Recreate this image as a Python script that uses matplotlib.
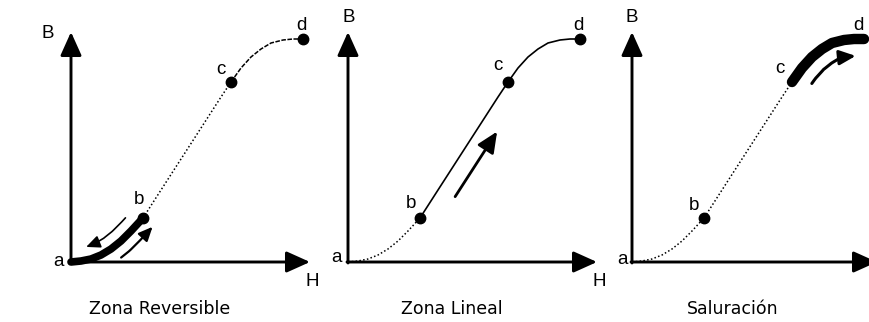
import numpy as np
import matplotlib.pyplot as plt

plt.rcParams['font.family'] = ['Liberation Sans', 'DejaVu Sans']

# Curva de magnetización B(H), en píxeles desde el origen
H = [0, 10, 20, 30, 40, 50, 60, 72, 90, 110, 130, 150, 160, 170, 180, 190, 200, 212, 222, 232]
B = [0, 1, 3, 7, 13, 21, 31, 44, 72, 103, 134, 165, 180, 194, 205, 213, 219, 222, 223, 223]

# Índices de los puntos a, b, c, d sobre la curva
PUNTOS = {'a': 0, 'b': 7, 'c': 12, 'd': 19}

TITULOS = ['Zona Reversible', 'Zona Lineal', 'Saluración']

W, HGT = 869, 322
ORIGENES_X = [71, 348, 632]     # posición del origen de cada panel (px)
LARGO_H = [239, 249, 245]
LARGO_B = 230
FS_LETRA = 13.5
FS_TITULO = 12.5

fig = plt.figure(figsize=(W / 100, HGT / 100), dpi=100)
fig.patch.set_facecolor('white')


def nuevo_panel(ox):
    ax = fig.add_axes([(ox - 70) / W, 0, 330 / W, 1])
    ax.set_xlim(-70, 260)
    ax.set_ylim(-60, 262)
    ax.axis('off')
    ax.patch.set_alpha(0)
    return ax


def ejes(ax, largo_h):
    flecha = dict(arrowstyle='-|>,head_length=0.8,head_width=0.36',
                  mutation_scale=18, lw=2.1, color='black',
                  shrinkA=0, shrinkB=0)
    ax.annotate('', xy=(0, LARGO_B), xytext=(0, -1), arrowprops=flecha)
    ax.annotate('', xy=(largo_h, 0), xytext=(-1, 0), arrowprops=flecha)


def tramo(i0, i1):
    return H[i0:i1 + 1], B[i0:i1 + 1]


def paralela(h0, h1, dist, n=25):
    # trazo paralelo a la curva, desplazado según la normal
    h = np.linspace(h0, h1, n)
    b = np.interp(h, H, B)
    dh, db = np.gradient(h), np.gradient(b)
    s = np.hypot(dh, db) * np.sign(h1 - h0)
    return h - dist * db / s, b + dist * dh / s


def flecha_curva(ax, h0, h1, dist, lw, cabeza):
    x, y = paralela(h0, h1, dist)
    ax.plot(x[:-2], y[:-2], color='black', lw=lw, solid_capstyle='round')
    ax.annotate('', xy=(x[-1], y[-1]), xytext=(x[-4], y[-4]),
                arrowprops=dict(arrowstyle=f'-|>,head_length={cabeza},head_width={cabeza * 0.45}',
                                mutation_scale=14, lw=lw, color='black',
                                shrinkA=0, shrinkB=0))


def puntos(ax, nombres):
    for n in nombres:
        i = PUNTOS[n]
        ax.plot(H[i], B[i], 'o', color='black', ms=7.5, zorder=5)


def etiquetas(ax, desplaz):
    for n, (dx, dy) in desplaz.items():
        i = PUNTOS[n]
        ax.text(H[i] + dx, B[i] + dy, n, fontsize=FS_LETRA, ha='center', va='center')


def titulo(ax, x, texto):
    ax.text(x, -47, texto, fontsize=FS_TITULO, ha='center', va='center',
            family='DejaVu Sans')


ia, ib, ic, idd = PUNTOS['a'], PUNTOS['b'], PUNTOS['c'], PUNTOS['d']
axes = [nuevo_panel(ox) for ox in ORIGENES_X]

# Panel 1: zona reversible (a-b)
ax = axes[0]
ejes(ax, LARGO_H[0])
ax.plot(*tramo(ib, ic), color='black', lw=1.1, ls=(0, (1, 1.5)))
ax.plot(*tramo(ic, idd), color='black', lw=1.1, ls=(0, (3, 1)))
ax.plot(*tramo(ia, ib), color='black', lw=5.5, solid_capstyle='round')
flecha_curva(ax, 64, 20, 13, 1.2, 0.6)
flecha_curva(ax, 42, 72, -13, 1.6, 0.6)
puntos(ax, ['b', 'c', 'd'])
etiquetas(ax, {'a': (-13, 0), 'b': (-4, 18), 'c': (-10, 13), 'd': (-2, 13)})
ax.text(-23, 229, 'B', fontsize=FS_LETRA, ha='center', va='center')
ax.text(LARGO_H[0] + 2, -20, 'H', fontsize=FS_LETRA, ha='center', va='center')
titulo(ax, 89, TITULOS[0])

# Panel 2: zona lineal (b-c)
ax = axes[1]
ejes(ax, LARGO_H[1])
ax.plot(*tramo(ia, ib), color='black', lw=1.1, ls=(0, (1, 1.5)))
ax.plot(*tramo(ib, idd), color='black', lw=1.2)
flecha_curva(ax, 92, 134, -18, 2.0, 0.9)
puntos(ax, ['b', 'c', 'd'])
etiquetas(ax, {'a': (-12, 4), 'b': (-9, 15), 'c': (-10, 17), 'd': (-2, 13)})
ax.text(1, 244, 'B', fontsize=FS_LETRA, ha='center', va='center')
ax.text(LARGO_H[1] + 2, -20, 'H', fontsize=FS_LETRA, ha='center', va='center')
titulo(ax, 104, TITULOS[1])

# Panel 3: saturación (c-d)
ax = axes[2]
ejes(ax, LARGO_H[2])
ax.plot(*tramo(ia, ic), color='black', lw=1.1, ls=(0, (1, 1.5)))
ax.plot(*tramo(ic, idd), color='black', lw=7.5, solid_capstyle='round')
flecha_curva(ax, 166, 222, -17, 2.2, 0.7)
puntos(ax, ['b'])
etiquetas(ax, {'a': (-10, 3), 'b': (-10, 12), 'c': (-12, 14), 'd': (-6, 14)})
ax.text(0, 245, 'B', fontsize=FS_LETRA, ha='center', va='center')
titulo(ax, 101, TITULOS[2])

fig.savefig('out.png', dpi=100)
